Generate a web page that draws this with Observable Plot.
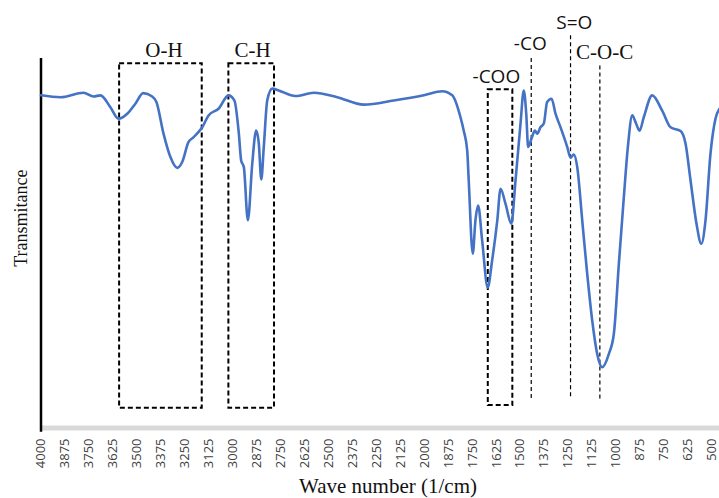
<!DOCTYPE html>
<html>
<head>
<meta charset="utf-8">
<script src="https://cdn.jsdelivr.net/npm/d3@7"></script>
<script src="https://cdn.jsdelivr.net/npm/@observablehq/plot@0.6"></script>
<style>
  html, body { margin: 0; padding: 0; background: #fff; }
  #chart svg { display: block; }
</style>
</head>
<body>
<div id="chart"></div>
<script>
// FTIR spectrum (wave number in 1/cm, transmittance in arbitrary %)
const wavenumber = [4000, 3898, 3778, 3726, 3690, 3638, 3596, 3549, 3507, 3467, 3420, 3398, 3361, 3325, 3290, 3264, 3231, 3205, 3159, 3126, 3074, 3022, 2991, 2968, 2956, 2942, 2921, 2898, 2878, 2864, 2851, 2838, 2820, 2794, 2760, 2673, 2577, 2455, 2316, 2160, 2003, 1907, 1855, 1812, 1795, 1777, 1769, 1748, 1734, 1720, 1699, 1670, 1647, 1620, 1603, 1577, 1547, 1525, 1499, 1482, 1469, 1459, 1442, 1424, 1412, 1395, 1377, 1360, 1337, 1316, 1290, 1255, 1238, 1221, 1203, 1177, 1151, 1125, 1099, 1073, 1038, 1012, 986, 960, 939, 916, 899, 878, 856, 812, 760, 716, 664, 638, 612, 581, 556, 534, 508, 482, 461];
const transmittance = [90.1, 89.6, 90.8, 89.8, 90.1, 86.9, 83.8, 85.2, 87.9, 90.7, 89.8, 88.3, 79.8, 73.5, 70.6, 72.1, 77.5, 78.8, 81.5, 84.7, 86.5, 90.1, 88.7, 79.8, 72.6, 70.8, 56.5, 71.8, 80.6, 77.2, 67.5, 76.2, 88.7, 91.9, 91.4, 89.9, 90.8, 89.6, 87.6, 88.7, 90.1, 91.2, 90.1, 84.2, 80.6, 75.3, 67.2, 47.5, 56.5, 60.5, 51.1, 38.4, 45.7, 56.5, 65.0, 60.9, 55.6, 67.2, 82.4, 91.4, 85.1, 76.2, 78.4, 80.6, 79.8, 81.5, 82.6, 88.3, 89.2, 85.1, 81.5, 76.2, 73.3, 74.2, 70.8, 56.5, 42.1, 29.6, 20.6, 17.0, 20.6, 26.0, 44.8, 62.7, 76.2, 84.7, 82.9, 80.6, 84.2, 90.1, 86.0, 81.5, 80.5, 77.1, 67.2, 55.6, 50.2, 56.5, 74.4, 83.8, 86.5];

// x tick labels
const xTicks = [4000, 3875, 3750, 3625, 3500, 3375, 3250, 3125, 3000, 2875, 2750, 2625, 2500, 2375, 2250, 2125, 2000, 1875, 1750, 1625, 1500, 1375, 1250, 1125, 1000, 875, 750, 625, 500];

// dashed boxes (band regions) in data units
const boxNames = ["O-H", "C-H", "-COO"];
const boxFrom = [3590, 3020, 1667];
const boxTo = [3159, 2782, 1539];
const boxTop = [98.6, 98.6, 91.6];
const boxBottom = [6.0, 6.0, 6.7];

// dashed marker lines
const lineNames = ["-CO", "S=O", "C-O-C"];
const lineAt = [1443, 1238, 1085];
const lineTop = [100.8, 106.6, 98.1];
const lineBottom = [8.6, 9.1, 8.5];

// annotation labels
const labelText = ["O-H", "C-H", "-COO", "-CO", "S=O", "C-O-C"];
const labelX = [3359, 2897, 1625, 1448, 1218, 1060];
const labelY = [100.35, 100.35, 93.4, 102.3, 108.0, 99.9];
const labelSerif = [true, true, false, false, false, true];

const spectrum = wavenumber.map((w, i) => ({w, t: transmittance[i]}));
const boxes = boxNames.map((n, i) => ({n, x1: boxFrom[i], x2: boxTo[i], y1: boxBottom[i], y2: boxTop[i]}));
const lines = lineNames.map((n, i) => ({n, x: lineAt[i], y1: lineBottom[i], y2: lineTop[i]}));
const labels = labelText.map((t, i) => ({t, x: labelX[i], y: labelY[i], serif: labelSerif[i]}));

const chart = Plot.plot({
  width: 719,
  height: 498,
  marginLeft: 40.5,
  marginRight: 0,
  marginTop: 58,
  marginBottom: 68,
  style: {background: "#fff", overflow: "visible", fontFamily: "Open Sans"},
  x: {domain: [4000, 461]},
  y: {domain: [0, 100], axis: null},
  marks: [
    // light gray horizontal axis band
    Plot.ruleY([0], {stroke: "#d9d9d9", strokeWidth: 5, dy: -2.5}),
    Plot.axisX(xTicks, {
      tickRotate: -90, tickSize: 0, tickPadding: 8,
      fontSize: 13, fontFamily: "Open Sans", fill: "#404040",
      tickFormat: d => String(d), label: null
    }),
    // black left axis
    Plot.ruleX([4000], {y1: -0.5, y2: 100, stroke: "#000", strokeWidth: 2.5}),
    // dashed boxes
    Plot.rect(boxes, {x1: "x1", x2: "x2", y1: "y1", y2: "y2", fill: "none", stroke: "#000", strokeWidth: 2, strokeDasharray: "5,3"}),
    // dashed lines
    Plot.ruleX(lines, {x: "x", y1: "y1", y2: "y2", stroke: "#000", strokeWidth: 1.2, strokeDasharray: "4,3"}),
    // spectrum
    Plot.line(spectrum, {x: "w", y: "t", stroke: "#4472C4", strokeWidth: 2.6, curve: "monotone-x"}),
    // labels
    Plot.text(labels.filter(d => d.serif), {x: "x", y: "y", text: "t", lineAnchor: "bottom", fontSize: 21, fontFamily: "Liberation Serif", fill: "#111"}),
    Plot.text(labels.filter(d => !d.serif), {x: "x", y: "y", text: "t", lineAnchor: "bottom", fontSize: 19, fontFamily: "Open Sans", fill: "#111"}),
    // axis titles
    Plot.text(["Wave number (1/cm)"], {x: 2190, frameAnchor: "bottom", dy: 62, lineAnchor: "bottom", fontSize: 21, fontFamily: "Liberation Serif", fill: "#111"}),
    Plot.text(["Transmitance"], {x: 4000, y: 57.1, dx: -13.8, rotate: -90, lineAnchor: "bottom", fontSize: 18, fontFamily: "Liberation Serif", fill: "#111"})
  ]
});
document.getElementById("chart").appendChild(chart);
</script>
</body>
</html>
